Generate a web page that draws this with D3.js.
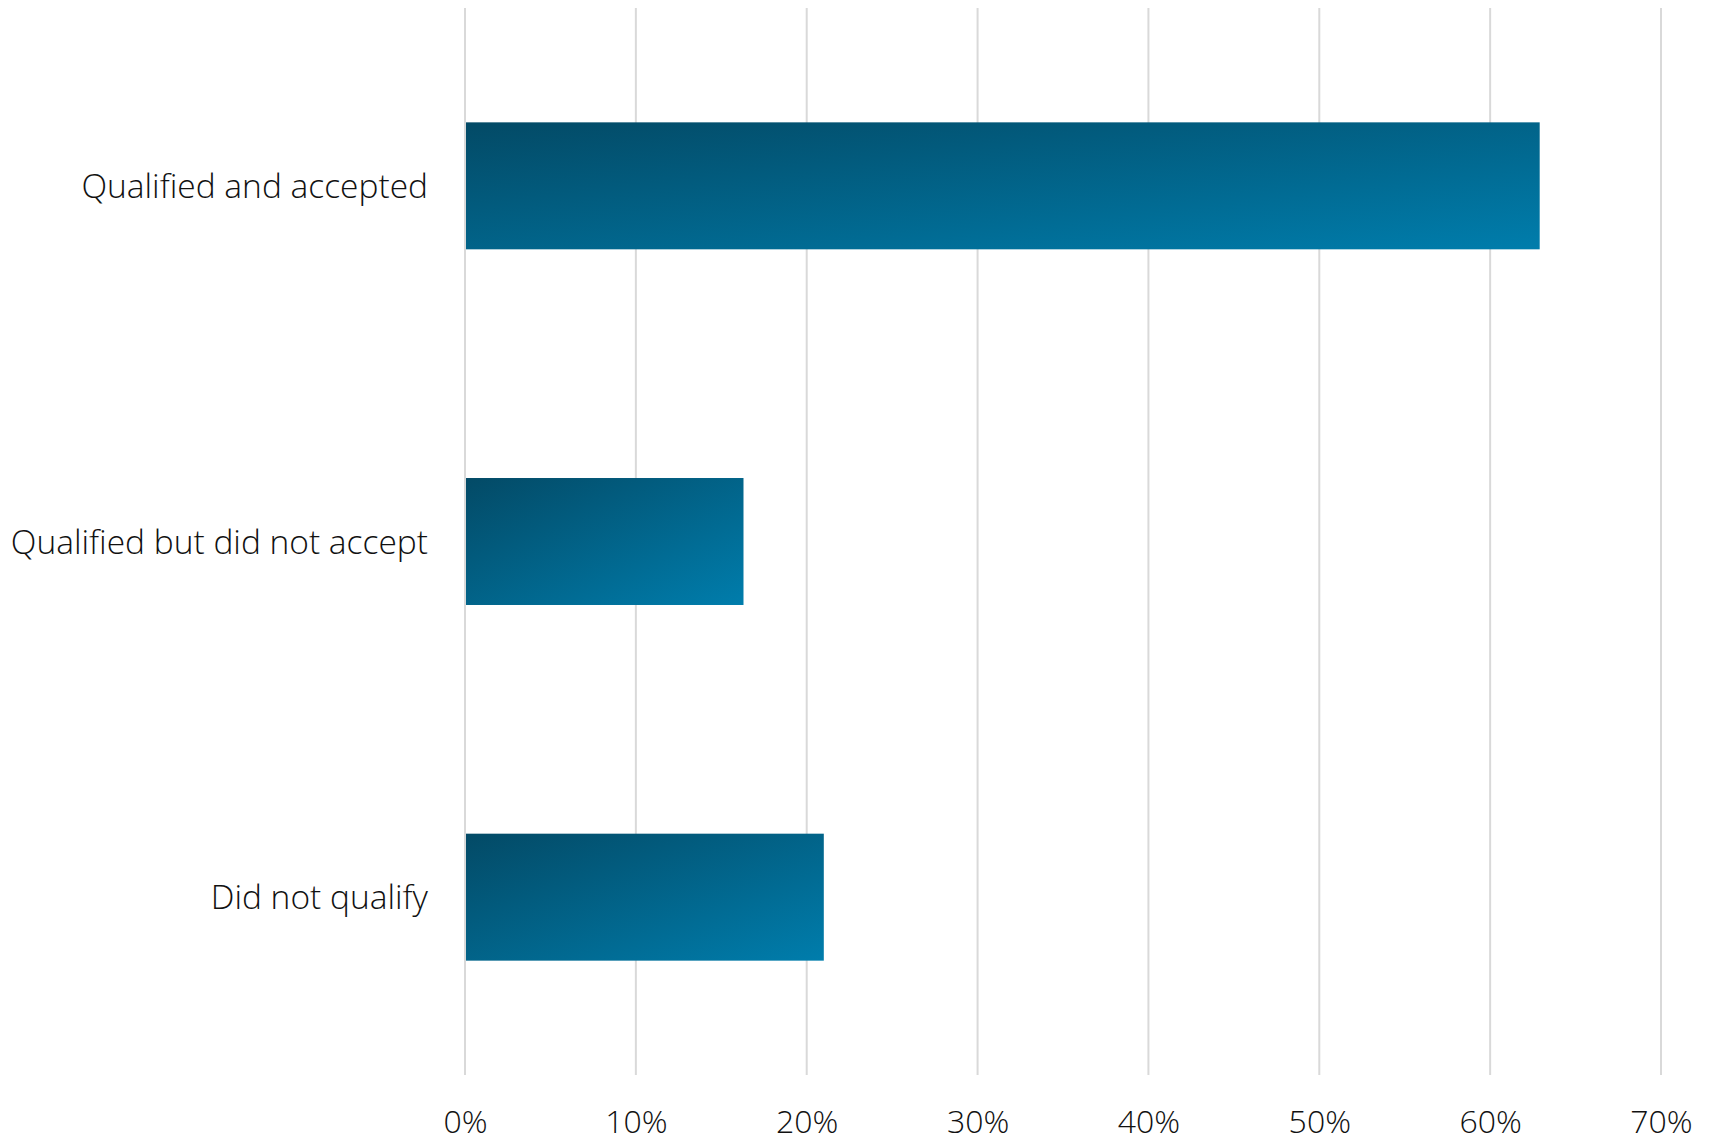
<!DOCTYPE html>
<html>
<head>
<meta charset="utf-8">
<script src="https://cdn.jsdelivr.net/npm/d3@7"></script>
<style>
  html, body { margin: 0; padding: 0; background: #fff; }
  svg { display: block; }
</style>
</head>
<body>
<svg id="chart" width="1711" height="1141"></svg>
<script>
const categories = ["Qualified and accepted", "Qualified but did not accept", "Did not qualify"];
const values = [62.9, 16.3, 21.0];
const tickValues = [0, 10, 20, 30, 40, 50, 60, 70];

(function () {
const svg = d3.select("#chart");
const mLeft = 465, mRight = 1661, mTop = 8, mBottom = 1075;
const fontFam = "'Open Sans', sans-serif";

const x = d3.scaleLinear().domain([0, 70]).range([mLeft, mRight]);
const y = d3.scaleBand().domain(categories).range([mTop, mBottom]).paddingInner(0.643).paddingOuter(0.3215);

const defs = svg.append("defs");
const grad = defs.append("linearGradient").attr("id", "barGrad")
  .attr("x1", 0).attr("y1", 0).attr("x2", 1).attr("y2", 1);
grad.append("stop").attr("offset", "0%").attr("stop-color", "#034a66");
grad.append("stop").attr("offset", "100%").attr("stop-color", "#007dac");

// gridlines
svg.append("g").selectAll("line").data(tickValues).join("line")
  .attr("x1", d => x(d)).attr("x2", d => x(d))
  .attr("y1", mTop).attr("y2", mBottom)
  .attr("stroke", "#d9d9d9").attr("stroke-width", 2);

// bars
svg.append("g").selectAll("rect").data(categories).join("rect")
  .attr("x", x(0) + 1)
  .attr("y", d => y(d))
  .attr("width", (d, i) => x(values[i]) - x(0) - 1)
  .attr("height", y.bandwidth())
  .attr("fill", "url(#barGrad)");

// x axis labels
const xAxis = d3.axisBottom(x).tickValues(tickValues).tickFormat(d => d + "%").tickSize(0).tickPadding(0);
const gx = svg.append("g").attr("transform", `translate(0, ${mBottom})`).call(xAxis);
gx.select(".domain").remove();
gx.selectAll("text").attr("dy", null).attr("y", 58)
  .style("font-size", "32px").style("font-weight", 300)
  .style("font-family", fontFam).attr("fill", "#111");

// y axis labels
const yAxis = d3.axisLeft(y).tickSize(0).tickPadding(0);
const gy = svg.append("g").attr("transform", `translate(${mLeft - 37}, 0)`).call(yAxis);
gy.select(".domain").remove();
gy.selectAll("text").attr("dy", "0.36em").attr("x", 0)
  .style("font-size", "33.5px").style("font-weight", 300)
  .style("font-family", fontFam).attr("fill", "#111");
})();
</script>
</body>
</html>
